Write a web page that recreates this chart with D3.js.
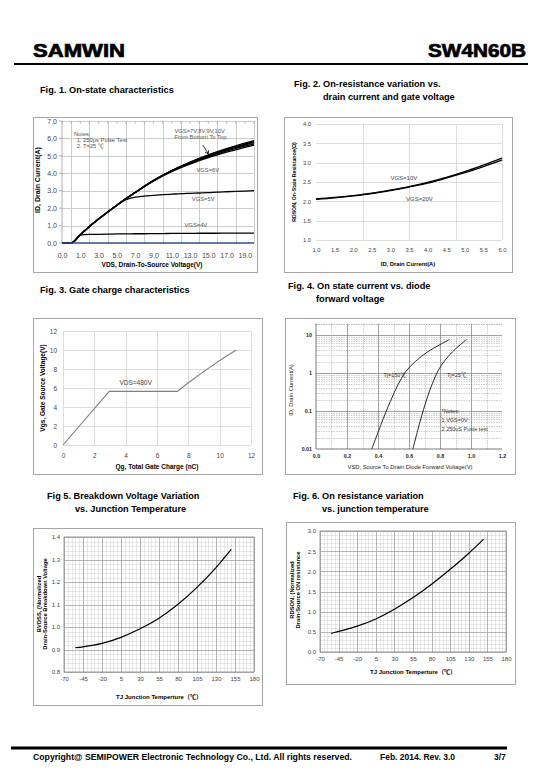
<!DOCTYPE html>
<html><head><meta charset="utf-8">
<script src="https://cdn.jsdelivr.net/npm/d3@7/dist/d3.min.js"></script>
<style>
body{margin:0;background:#fff}
svg{display:block}
text{font-family:"Liberation Sans",Arial,"Noto Sans CJK SC",sans-serif}
</style>
</head><body>
<svg id="c" width="540" height="780"></svg>
<script>
// ---------------- DATA ----------------
// Fig 1: on-state characteristics
const f1Vds   = [-1,0,1,2,3,4,5,6,7,8,9,10,11,12,13,14,15,16,17,18,19,20];
const f1Vgs10 = [0,0,0.47,0.95,1.38,1.78,2.17,2.55,2.9,3.25,3.58,3.88,4.15,4.41,4.64,4.86,5.06,5.25,5.42,5.58,5.73,5.88];
const f1Vgs9  = [0,0,0.47,0.95,1.38,1.78,2.17,2.55,2.9,3.25,3.58,3.88,4.15,4.4,4.62,4.83,5.03,5.21,5.38,5.53,5.68,5.82];
const f1Vgs8  = [0,0,0.47,0.95,1.38,1.78,2.17,2.55,2.9,3.25,3.58,3.88,4.14,4.39,4.6,4.8,4.99,5.17,5.33,5.48,5.62,5.76];
const f1Vgs7  = [0,0,0.47,0.95,1.38,1.78,2.17,2.55,2.9,3.25,3.57,3.87,4.13,4.37,4.58,4.77,4.95,5.12,5.28,5.42,5.56,5.69];
const f1Vgs6  = [0,0,0.47,0.95,1.38,1.78,2.17,2.55,2.89,3.23,3.55,3.84,4.1,4.33,4.53,4.72,4.9,5.06,5.21,5.35,5.48,5.62];
const f1Vgs5  = [0,0,0.47,0.95,1.38,1.78,2.15,2.48,2.63,2.69,2.73,2.77,2.8,2.83,2.85,2.87,2.89,2.92,2.94,2.96,2.98,3.0];
const f1Vgs4  = [0,0,0.45,0.49,0.5,0.51,0.52,0.52,0.53,0.53,0.54,0.54,0.55,0.55,0.55,0.56,0.56,0.56,0.57,0.57,0.57,0.57];
const f1Vgs3  = [0,0,0,0,0,0,0,0,0,0,0,0,0,0,0,0,0,0,0,0,0,0];
const f1XTickVals  = [-1,1,3,5,7,9,11,13,15,17,19];
const f1XTickLabels= ["0.0","1.0","3.0","5.0","7.0","9.0","11.0","13.0","15.0","17.0","19.0"];
const f1YTicks = [0,1,2,3,4,5,6,7];

// Fig 2: on-resistance vs drain current
const f2Id    = [1.0,1.5,2.0,2.5,3.0,3.5,4.0,4.5,5.0,5.5,6.0];
const f2R10   = [2.06,2.1,2.15,2.21,2.29,2.38,2.49,2.62,2.77,2.94,3.12];
const f2R20   = [2.05,2.09,2.14,2.2,2.28,2.37,2.47,2.6,2.74,2.9,3.07];
const f2XTicks= [1.0,1.5,2.0,2.5,3.0,3.5,4.0,4.5,5.0,5.5,6.0];
const f2YTicks= [1.0,1.5,2.0,2.5,3.0,3.5,4.0];
const f2VGrid = [2.25,3.5,4.75,6.0];

// Fig 3: gate charge
const f3Qg  = [0,2.95,7.3,8,9,10,11.05];
const f3Vgs = [0,5.65,5.65,6.55,7.75,8.9,10];
const f3Ticks = [0,2,4,6,8,10,12];

// Fig 4: diode forward voltage
const f4V150 = [0.36,0.42,0.48,0.53,0.58,0.64,0.72,0.8,0.86];
const f4I150 = [0.01,0.045,0.18,0.5,1.1,2.0,3.6,5.6,7.6];
const f4V25  = [0.625,0.67,0.72,0.76,0.79,0.83,0.88,0.93,0.97];
const f4I25  = [0.01,0.05,0.24,0.65,1.2,2.1,3.6,5.5,7.6];
const f4XTicks = [0.0,0.2,0.4,0.6,0.8,1.0,1.2];
const f4YTicks = [0.01,0.1,1,10];

// Fig 5 / Fig 6: temperature
const tj    = [-55,-45,-20,5,30,55,80,105,130,150];
const f5Bv  = [0.908,0.912,0.927,0.954,0.992,1.039,1.101,1.176,1.264,1.345];
const f6Rds = [0.46,0.51,0.64,0.82,1.06,1.35,1.68,2.05,2.45,2.8];
const tTicks = [-70,-45,-20,5,30,55,80,105,130,155,180];
const f5YTicks = [0.8,0.9,1.0,1.1,1.2,1.3,1.4];
const f6YTicks = [0.0,0.5,1.0,1.5,2.0,2.5,3.0];

// ---------------- DRAW ----------------
const svg = d3.select('#c');
svg.append('rect').attr('width',540).attr('height',780).attr('fill','#fff');

function txt(g,x,y,s,o={}){
  const t=g.append('text').attr('x',x).attr('y',y).text(s)
    .attr('font-size',o.size||9).attr('font-weight',o.bold?'bold':'normal')
    .attr('fill',o.fill||'#000').attr('text-anchor',o.anchor||'start');
  if(o.rot) t.attr('transform',`rotate(-90,${x},${y})`);
  if(o.len) t.attr('textLength',o.len).attr('lengthAdjust','spacingAndGlyphs');
  if(o.stroke) t.attr('stroke',o.fill||'#000').attr('stroke-width',o.stroke);
  return t;
}
function frame(g,x,y,w,h,c){
  g.append('rect').attr('x',x+0.5).attr('y',y+0.5).attr('width',w).attr('height',h)
   .attr('fill','none').attr('stroke',c||'#a6a6a6').attr('stroke-width',1);
}
function hgrid(g,x,y,vals,stroke,w,dash){
  g.append('g').selectAll('line').data(vals).join('line')
   .attr('x1',x.range()[0]).attr('x2',x.range()[1])
   .attr('y1',d=>Math.round(y(d))+0.5).attr('y2',d=>Math.round(y(d))+0.5)
   .attr('stroke',stroke).attr('stroke-width',w||1).attr('stroke-dasharray',dash||null);
}
function vgrid(g,x,y,vals,stroke,w,dash){
  g.append('g').selectAll('line').data(vals).join('line')
   .attr('y1',y.range()[0]).attr('y2',y.range()[1])
   .attr('x1',d=>Math.round(x(d))+0.5).attr('x2',d=>Math.round(x(d))+0.5)
   .attr('stroke',stroke).attr('stroke-width',w||1).attr('stroke-dasharray',dash||null);
}
function styleAxis(a,size,fill,bold){
  a.select('.domain').remove();
  a.selectAll('line').remove();
  a.selectAll('text').attr('font-size',size).attr('fill',fill).attr('font-family','"Liberation Sans",Arial,sans-serif')
   .attr('font-weight',bold?'bold':'normal');
}

// Header
txt(svg,33,57,'SAMWIN',{size:18,bold:true,len:92,stroke:0.7});
txt(svg,526,57,'SW4N60B',{size:18,bold:true,len:98,anchor:'end',stroke:0.7});
svg.append('line').attr('x1',14).attr('x2',528).attr('y1',64).attr('y2',64).attr('stroke','#000').attr('stroke-width',2);

// Titles
const TS=9.2;
txt(svg,40,93,'Fig. 1. On-state characteristics',{size:TS,bold:true});
txt(svg,294,87,'Fig. 2. On-resistance variation vs.',{size:TS,bold:true});
txt(svg,323,100,'drain current and gate voltage',{size:TS,bold:true});
txt(svg,40,293,'Fig. 3. Gate charge characteristics',{size:TS,bold:true});
txt(svg,288,289,'Fig. 4. On state current vs. diode',{size:TS,bold:true});
txt(svg,316,302,'forward voltage',{size:TS,bold:true});
txt(svg,47,499,'Fig 5. Breakdown Voltage Variation',{size:TS,bold:true});
txt(svg,75,512,'vs. Junction Temperature',{size:TS,bold:true});
txt(svg,293,499,'Fig. 6. On resistance variation',{size:TS,bold:true});
txt(svg,322,512,'vs. junction temperature',{size:TS,bold:true});

// Footer
svg.append('line').attr('x1',11).attr('x2',507).attr('y1',748).attr('y2',748).attr('stroke','#000').attr('stroke-width',3);
txt(svg,33,760,'Copyright@ SEMIPOWER Electronic Technology Co., Ltd. All rights reserved.',{size:8.5,bold:true,len:319});
txt(svg,380,760,'Feb. 2014. Rev. 3.0',{size:8.5,bold:true});
txt(svg,494,760,'3/7',{size:8.5,bold:true});

// ---------- Fig 1 ----------
{
  const g=svg.append('g');
  frame(g,33,117,224,155);
  const x=d3.scaleLinear().domain([-1,20]).range([62,254]);
  const y=d3.scaleLinear().domain([0,7]).range([243,121]);
  hgrid(g,x,y,f1YTicks.slice(1),'#bfbfbf',0.8);
  vgrid(g,x,y,d3.range(0,21,2),'#bfbfbf',0.8);
  g.append('g').selectAll('line').data(d3.range(-1,20.01,1)).join('line')
    .attr('x1',d=>x(d)).attr('x2',d=>x(d)).attr('y1',y(7)).attr('y2',y(7)+3).attr('stroke','#9a9a9a').attr('stroke-width',0.6);
  g.append('g').selectAll('line').data(f1YTicks).join('line')
    .attr('x1',x(-1)-3).attr('x2',x(-1)).attr('y1',d=>y(d)).attr('y2',d=>y(d)).attr('stroke','#9a9a9a').attr('stroke-width',0.8);
  g.append('line').attr('x1',x(-1)).attr('x2',x(-1)).attr('y1',y(0)).attr('y2',y(7)).attr('stroke','#9a9a9a').attr('stroke-width',0.8);
  const ay=g.append('g').attr('transform',`translate(${x(-1)-4},0)`)
    .call(d3.axisLeft(y).tickValues(f1YTicks).tickFormat(d3.format('.1f')).tickSize(0).tickPadding(1));
  styleAxis(ay,7,'#444');
  const ax=g.append('g').attr('transform',`translate(0,${y(0)+2})`)
    .call(d3.axisBottom(x).tickValues(f1XTickVals).tickFormat((d,i)=>f1XTickLabels[i]).tickSize(0).tickPadding(8));
  styleAxis(ax,7,'#444');
  const line=d3.line().x((d,i)=>x(f1Vds[i])).y(d=>y(d)).curve(d3.curveMonotoneX);
  [f1Vgs4,f1Vgs5,f1Vgs6,f1Vgs7,f1Vgs8,f1Vgs9,f1Vgs10].forEach(s=>{
    g.append('path').attr('d',line(s)).attr('fill','none').attr('stroke','#000').attr('stroke-width',1.3);
  });
  g.append('path').attr('d',line(f1Vgs3)).attr('fill','none').attr('stroke','#2f4f8f').attr('stroke-width',1.3);
  const nf={size:5.8,fill:'#555'};
  txt(g,x(0.3),y(6.15),'Notes:',nf);
  txt(g,x(0.6),y(5.8),'1. 250μs  Pulse Test',nf);
  txt(g,x(0.6),y(5.45),'2. T=25 ℃',nf);
  txt(g,x(11.3),y(6.3),'VGS=7V,8V,9V,10V',nf);
  txt(g,x(11.3),y(5.95),'From Bottom To Top',nf);
  txt(g,x(13.7),y(4.1),'VGS=6V',nf);
  txt(g,x(13.2),y(2.4),'VGS=5V',nf);
  txt(g,x(12.4),y(0.93),'VGS=4V',nf);
  const ax0=x(14.4),ay0=y(5.62),ax1=x(15.0),ay1=y(5.12);
  g.append('line').attr('x1',ax0).attr('y1',ay0).attr('x2',ax1).attr('y2',ay1).attr('stroke','#000').attr('stroke-width',0.8);
  g.append('path').attr('d',`M${ax1},${ay1} l-3.2,-1.6 M${ax1},${ay1} l0.4,-3.4`).attr('stroke','#000').attr('stroke-width',0.8).attr('fill','none');
  txt(g,40,180,'ID, Drain Current(A)',{size:7,bold:true,rot:true,anchor:'middle'});
  txt(g,152,267,'VDS,  Drain-To-Source Voltage(V)',{size:6.5,bold:true,anchor:'middle'});
}

// ---------- Fig 2 ----------
{
  const g=svg.append('g');
  frame(g,284,117,228,155);
  const x=d3.scaleLinear().domain([1,6]).range([316,502]);
  const y=d3.scaleLinear().domain([1,4]).range([240,124]);
  hgrid(g,x,y,f2YTicks,'#d4d4d4',0.8);
  vgrid(g,x,y,f2VGrid,'#d4d4d4',0.8);
  const ay=g.append('g').attr('transform',`translate(${x(1)-2},0)`)
    .call(d3.axisLeft(y).tickValues(f2YTicks).tickFormat(d3.format('.1f')).tickSize(0).tickPadding(3));
  styleAxis(ay,5.8,'#444');
  const ax=g.append('g').attr('transform',`translate(0,${y(1)+5})`)
    .call(d3.axisBottom(x).tickValues(f2XTicks).tickFormat(d3.format('.1f')).tickSize(0).tickPadding(3));
  styleAxis(ax,5.8,'#444');
  const line=d3.line().x((d,i)=>x(f2Id[i])).y(d=>y(d)).curve(d3.curveMonotoneX);
  [f2R10,f2R20].forEach(s=>g.append('path').attr('d',line(s)).attr('fill','none').attr('stroke','#000').attr('stroke-width',1.3));
  txt(g,x(3.0),y(2.56),'VGS=10V',{size:6,fill:'#444'});
  txt(g,x(3.42),y(2.02),'VGS=20V',{size:6,fill:'#444'});
  txt(g,296,182,'RDSON, On-State Resistance(Ω)',{size:5.2,bold:true,rot:true,anchor:'middle'});
  txt(g,408,266,'ID, Drain Current(A)',{size:5.8,bold:true,anchor:'middle'});
}

// ---------- Fig 3 ----------
{
  const g=svg.append('g');
  frame(g,33,318,229,156);
  const x=d3.scaleLinear().domain([0,12]).range([63,251]);
  const y=d3.scaleLinear().domain([0,12]).range([445,331]);
  hgrid(g,x,y,f3Ticks,'#d4d4d4',0.8);
  vgrid(g,x,y,f3Ticks,'#d4d4d4',0.8);
  const ay=g.append('g').attr('transform',`translate(${x(0)-3},0)`)
    .call(d3.axisLeft(y).tickValues(f3Ticks).tickSize(0).tickPadding(3));
  styleAxis(ay,6.5,'#444');
  const ax=g.append('g').attr('transform',`translate(0,${y(0)+5})`)
    .call(d3.axisBottom(x).tickValues(f3Ticks).tickSize(0).tickPadding(3));
  styleAxis(ax,6.5,'#444');
  const line=d3.line().x((d,i)=>x(f3Qg[i])).y(d=>y(d));
  g.append('path').attr('d',line(f3Vgs)).attr('fill','none').attr('stroke','#7f7f7f').attr('stroke-width',1.1);
  txt(g,x(3.6),y(6.3),'VDS=480V',{size:6.5,fill:'#444'});
  txt(g,45,388,'Vgs,  Gate Source Voltage(V)',{size:6.5,bold:true,rot:true,anchor:'middle'});
  txt(g,157,469,'Qg, Total Gate Charge (nC)',{size:6.5,bold:true,anchor:'middle'});
}

// ---------- Fig 4 ----------
{
  const g=svg.append('g');
  frame(g,285,318,230,156);
  const x=d3.scaleLinear().domain([0,1.2]).range([316,502]);
  const y=d3.scaleLog().domain([0.01,20]).range([449,323.6]);
  const minor=[];
  [0.01,0.1,1,10].forEach(dec=>{for(let k=2;k<=9;k++){const v=dec*k; if(v<=20) minor.push(v);} });
  minor.push(20);
  hgrid(g,x,y,minor,'#9a9a9a',0.5,'1.5,1');
  hgrid(g,x,y,[0.1,1,10],'#8a8a8a',0.8);
  vgrid(g,x,y,[0.1,0.3,0.5,0.7,0.9,1.1],'#9a9a9a',0.5,'1.5,1');
  vgrid(g,x,y,[0.2,0.4,0.6,0.8,1.0],'#8a8a8a',0.8);
  g.append('line').attr('x1',x(0)).attr('x2',x(0)).attr('y1',y(0.01)).attr('y2',y(20)).attr('stroke','#555').attr('stroke-width',0.8);
  g.append('line').attr('x1',x(0)).attr('x2',x(1.2)).attr('y1',y(0.01)).attr('y2',y(0.01)).attr('stroke','#555').attr('stroke-width',0.8);
  const ay=g.append('g').attr('transform',`translate(${x(0)-2},0)`)
    .call(d3.axisLeft(y).tickValues(f4YTicks).tickFormat(d=>String(d)).tickSize(0).tickPadding(2));
  styleAxis(ay,5.3,'#222',true);
  const ax=g.append('g').attr('transform',`translate(0,${y(0.01)+2})`)
    .call(d3.axisBottom(x).tickValues(f4XTicks).tickFormat(d3.format('.1f')).tickSize(0).tickPadding(3));
  styleAxis(ax,5.3,'#222',true);
  const l150=d3.line().x((d,i)=>x(f4V150[i])).y(d=>y(d)).curve(d3.curveCatmullRom.alpha(0.5));
  const l25=d3.line().x((d,i)=>x(f4V25[i])).y(d=>y(d)).curve(d3.curveCatmullRom.alpha(0.5));
  g.append('path').attr('d',l150(f4I150)).attr('fill','none').attr('stroke','#111').attr('stroke-width',0.9);
  g.append('path').attr('d',l25(f4I25)).attr('fill','none').attr('stroke','#111').attr('stroke-width',0.9);
  const nf={size:5.5,fill:'#333'};
  txt(g,x(0.435),y(0.78),'Tj=150℃',nf);
  txt(g,x(0.845),y(0.78),'Tj=25℃',nf);
  txt(g,x(0.81),y(0.088),'*Notes:',nf);
  txt(g,x(0.81),y(0.052),'1.VGS=0V',nf);
  txt(g,x(0.81),y(0.03),'2.250uS Pusle test',nf);
  txt(g,293,390,'ID,  Drain Current(A)',{size:5.8,rot:true,anchor:'middle',fill:'#222'});
  txt(g,410,469,'VSD, Source To Drain Diode Forward Voltage(V)',{size:5.8,anchor:'middle',fill:'#222'});
}

// ---------- Fig 5 & 6 ----------
function tempChart(o){
  const g=svg.append('g');
  frame(g,o.bx,o.by,o.bw,o.bh);
  const x=d3.scaleLinear().domain([-70,180]).range([o.x0,o.x1]);
  const y=d3.scaleLinear().domain(o.yd).range([o.y0,o.y1]);
  hgrid(g,x,y,d3.range(o.yd[0],o.yd[1]+1e-9,o.ym).map(v=>+v.toFixed(3)),'#d0d0d0',0.5);
  vgrid(g,x,y,d3.range(-70,181,5),'#d0d0d0',0.5);
  hgrid(g,x,y,o.yt,'#a0a0a0',0.7);
  vgrid(g,x,y,tTicks,'#a0a0a0',0.7);
  g.append('rect').attr('x',o.x0).attr('y',o.y1).attr('width',o.x1-o.x0).attr('height',o.y0-o.y1).attr('fill','none').attr('stroke','#888').attr('stroke-width',0.8);
  const ay=g.append('g').attr('transform',`translate(${o.x0-2},0)`)
    .call(d3.axisLeft(y).tickValues(o.yt).tickFormat(d3.format('.1f')).tickSize(0).tickPadding(2));
  styleAxis(ay,6,'#444');
  const ax=g.append('g').attr('transform',`translate(0,${o.y0+2})`)
    .call(d3.axisBottom(x).tickValues(tTicks).tickFormat(d=>String(d)).tickSize(0).tickPadding(3));
  styleAxis(ax,6,'#444');
  const line=d3.line().x((d,i)=>x(tj[i])).y(d=>y(d)).curve(d3.curveMonotoneX);
  g.append('path').attr('d',line(o.data)).attr('fill','none').attr('stroke','#000').attr('stroke-width',1.2);
  txt(g,o.t1x,o.ty,o.t1,{size:5.8,bold:true,rot:true,anchor:'middle'});
  txt(g,o.t2x,o.ty,o.t2,{size:5.8,bold:true,rot:true,anchor:'middle'});
  txt(g,(o.x0+o.x1)/2,o.xty,'TJ Junction Temperture（℃）',{size:6,bold:true,anchor:'middle'});
}
tempChart({bx:33,by:528,bw:229,bh:177,x0:64,x1:254,y0:672,y1:537,yd:[0.8,1.4],ym:0.02,yt:f5YTicks,data:f5Bv,
  t1x:41,t2x:47,ty:604,t1:'BVDSS, (Normalized',t2:'Drain-Source Breakdown Voltage',xty:699});
tempChart({bx:286,by:522,bw:229,bh:162,x0:320,x1:506,y0:652,y1:531,yd:[0,3],ym:0.1,yt:f6YTicks,data:f6Rds,
  t1x:294,t2x:300,ty:590,t1:'RDSON, (Normalized',t2:'Drain-Source ON resistance',xty:674});
</script>
</body></html>
